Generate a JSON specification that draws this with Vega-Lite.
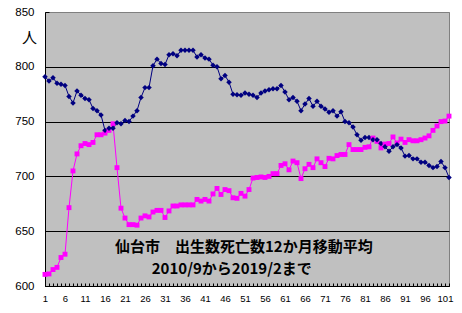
{
  "$schema": "https://vega.github.io/schema/vega-lite/v6.json",
  "width": 404,
  "height": 274,
  "autosize": "none",
  "padding": {"left": 45, "top": 12, "right": 13, "bottom": 27},
  "background": "white",
  "config": {
    "view": {"stroke": "#808080", "fill": "#C0C0C0", "strokeWidth": 1},
    "font": "Liberation Sans"
  },
  "data": {"values": [
    {"i":1,"births":791,"deaths":610.6},{"i":2,"births":787,"deaths":611},{"i":3,"births":790,"deaths":615},{"i":4,"births":785,"deaths":617},{"i":5,"births":784,"deaths":626},{"i":6,"births":783,"deaths":629},{"i":7,"births":773,"deaths":671.5},{"i":8,"births":767,"deaths":705},{"i":9,"births":778,"deaths":720.5},{"i":10,"births":774,"deaths":728},
    {"i":11,"births":771,"deaths":730},{"i":12,"births":770,"deaths":729},{"i":13,"births":762,"deaths":731},{"i":14,"births":760,"deaths":738},{"i":15,"births":756,"deaths":738},{"i":16,"births":742,"deaths":739.5},{"i":17,"births":744,"deaths":742},{"i":18,"births":744,"deaths":748},{"i":19,"births":749,"deaths":708},{"i":20,"births":748,"deaths":671},
    {"i":21,"births":751,"deaths":662},{"i":22,"births":750,"deaths":656},{"i":23,"births":755,"deaths":656},{"i":24,"births":760,"deaths":655.5},{"i":25,"births":772,"deaths":662},{"i":26,"births":781,"deaths":664},{"i":27,"births":781,"deaths":663},{"i":28,"births":801,"deaths":667.5},{"i":29,"births":807,"deaths":669},{"i":30,"births":803,"deaths":669},
    {"i":31,"births":802,"deaths":662.5},{"i":32,"births":811,"deaths":668.5},{"i":33,"births":812,"deaths":673},{"i":34,"births":810,"deaths":673},{"i":35,"births":815,"deaths":674},{"i":36,"births":815,"deaths":674},{"i":37,"births":815,"deaths":674},{"i":38,"births":815,"deaths":674},{"i":39,"births":809,"deaths":679},{"i":40,"births":811,"deaths":677.5},
    {"i":41,"births":808,"deaths":679},{"i":42,"births":807,"deaths":677.5},{"i":43,"births":801.5,"deaths":684},{"i":44,"births":800,"deaths":689},{"i":45,"births":789,"deaths":683.5},{"i":46,"births":792,"deaths":688},{"i":47,"births":786,"deaths":687},{"i":48,"births":775,"deaths":680.5},{"i":49,"births":774.5,"deaths":680},{"i":50,"births":774,"deaths":684.5},
    {"i":51,"births":776,"deaths":682},{"i":52,"births":775,"deaths":688},{"i":53,"births":774,"deaths":698.5},{"i":54,"births":772,"deaths":699},{"i":55,"births":776,"deaths":699.5},{"i":56,"births":778,"deaths":699},{"i":57,"births":779,"deaths":700},{"i":58,"births":780,"deaths":702.5},{"i":59,"births":780,"deaths":702.5},{"i":60,"births":783,"deaths":710},
    {"i":61,"births":777,"deaths":711.5},{"i":62,"births":770,"deaths":706},{"i":63,"births":772,"deaths":714},{"i":64,"births":768.5,"deaths":712.5},{"i":65,"births":760,"deaths":698},{"i":66,"births":766,"deaths":707},{"i":67,"births":771,"deaths":711},{"i":68,"births":764,"deaths":708},{"i":69,"births":768.5,"deaths":716},{"i":70,"births":764,"deaths":712.5},
    {"i":71,"births":761.5,"deaths":709},{"i":72,"births":758.5,"deaths":716.5},{"i":73,"births":760,"deaths":716},{"i":74,"births":755,"deaths":719},{"i":75,"births":759,"deaths":720},{"i":76,"births":750,"deaths":720},{"i":77,"births":749,"deaths":729},{"i":78,"births":745,"deaths":724.5},{"i":79,"births":738,"deaths":724.5},{"i":80,"births":733,"deaths":724.5},
    {"i":81,"births":735.5,"deaths":726.5},{"i":82,"births":735.5,"deaths":727},{"i":83,"births":733.5,"deaths":735},{"i":84,"births":733.5,"deaths":732},{"i":85,"births":730,"deaths":726},{"i":86,"births":727,"deaths":729.5},{"i":87,"births":723,"deaths":730},{"i":88,"births":727,"deaths":736},{"i":89,"births":729,"deaths":730.5},{"i":90,"births":726,"deaths":734},
    {"i":91,"births":718.5,"deaths":731},{"i":92,"births":719,"deaths":733.5},{"i":93,"births":716,"deaths":732.5},{"i":94,"births":716,"deaths":732.5},{"i":95,"births":713,"deaths":733.5},{"i":96,"births":713,"deaths":735},{"i":97,"births":710,"deaths":737},{"i":98,"births":708,"deaths":742},{"i":99,"births":709,"deaths":746},{"i":100,"births":713.5,"deaths":750},
    {"i":101,"births":708,"deaths":750.5},{"i":102,"births":699,"deaths":755}
  ]},
  "encoding": {
    "x": {
      "field": "i", "type": "quantitative",
      "scale": {"domain": [1, 102], "nice": false, "zero": false},
      "axis": {
        "title": null, "grid": false,
        "values": [1,2,3,4,5,6,7,8,9,10,11,12,13,14,15,16,17,18,19,20,21,22,23,24,25,26,27,28,29,30,31,32,33,34,35,36,37,38,39,40,41,42,43,44,45,46,47,48,49,50,51,52,53,54,55,56,57,58,59,60,61,62,63,64,65,66,67,68,69,70,71,72,73,74,75,76,77,78,79,80,81,82,83,84,85,86,87,88,89,90,91,92,93,94,95,96,97,98,99,100,101,102],
        "labelExpr": "(datum.value - 1) % 5 == 0 ? datum.label : ''",
        "labelOverlap": false, "labelFlush": false, "labelAngle": 0,
        "tickSize": -3, "tickColor": "black", "domainColor": "black",
        "labelColor": "black", "labelFontSize": 9.5, "labelPadding": 10.5, "labelBaseline": "top"
      }
    },
    "y": {
      "field": "v", "type": "quantitative",
      "scale": {"domain": [600, 850], "nice": false, "zero": false},
      "axis": {
        "values": [600, 650, 700, 750, 800, 850],
        "grid": true,
        "gridColor": {"condition": {"test": "datum.value === 850", "value": "#808080"}, "value": "black"},
        "gridOpacity": 1,
        "tickSize": -4, "tickColor": "black", "domainColor": "black",
        "labelColor": "black", "labelFontSize": 11.5, "labelPadding": 15,
        "title": "人", "titleAngle": 0, "titleX": -16, "titleY": 25,
        "titleAlign": "center", "titleBaseline": "middle",
        "titleFontSize": 15, "titleFontWeight": "normal", "titleColor": "black",
        "titleFont": "Noto Sans CJK JP"
      }
    }
  },
  "layer": [
    {
      "transform": [{"fold": ["deaths", "births"], "as": ["s", "v"]}],
      "mark": {"type": "line", "strokeWidth": 1},
      "encoding": {
        "color": {"field": "s", "type": "nominal", "scale": {"domain": ["births", "deaths"], "range": ["#000080", "#FF00FF"]}, "legend": null}
      }
    },
    {
      "transform": [{"fold": ["deaths", "births"], "as": ["s", "v"]}],
      "mark": {"type": "point", "filled": true, "opacity": 1},
      "encoding": {
        "color": {"field": "s", "type": "nominal", "scale": {"domain": ["births", "deaths"], "range": ["#000080", "#FF00FF"]}, "legend": null},
        "shape": {"field": "s", "type": "nominal", "scale": {"domain": ["births", "deaths"], "range": ["diamond", "square"]}, "legend": null},
        "size": {"field": "s", "type": "nominal", "scale": {"domain": ["births", "deaths"], "range": [30, 24]}, "legend": null}
      }
    },
    {
      "data": {"values": [
        {"i": 50.7, "v": 636, "t": "仙台市　出生数死亡数12か月移動平均"},
        {"i": 47.7, "v": 615.5, "t": "2010/9から2019/2まで"}
      ]},
      "mark": {"type": "text", "font": "Noto Sans CJK JP", "fontWeight": "bold", "fontSize": 15, "color": "black", "align": "center", "baseline": "middle"},
      "encoding": {"text": {"field": "t"}}
    }
  ]
}
